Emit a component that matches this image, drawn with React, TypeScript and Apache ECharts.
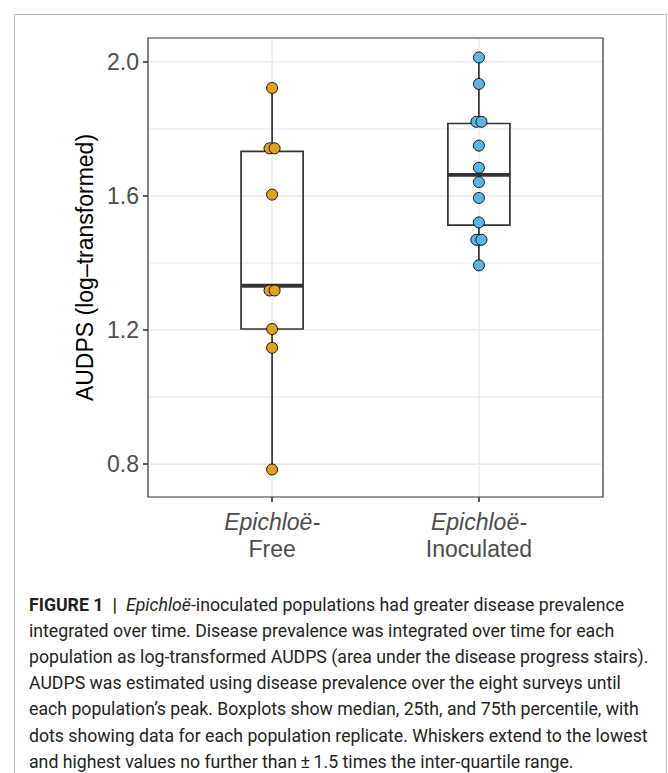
import React, { useEffect, useRef } from "react";
import * as echarts from "echarts";

// ---------------- data ----------------
const categories = ["Free", "Inoculated"];
const categoryPositions = [1, 2];
const freeValues = [1.922, 1.742, 1.742, 1.604, 1.318, 1.318, 1.203, 1.147, 0.784];
const inoculatedValues = [2.013, 1.934, 1.821, 1.821, 1.75, 1.684, 1.641, 1.594, 1.521, 1.469, 1.469, 1.393];
// [lower whisker, Q1, median, Q3, upper whisker]
const freeBox = [0.784, 1.203, 1.332, 1.733, 1.922];
const inoculatedBox = [1.393, 1.513, 1.663, 1.816, 2.013];
const yTicks = [0.8, 1.2, 1.6, 2.0];
const yMinorGrid = [1.0, 1.4, 1.8];
const yTitle = "AUDPS (log\u2013transformed)";
const xPrefix = "Epichlo\u00eb-";

const captionLines = [
  "{b|FIGURE 1\u2002|\u2002}{i|Epichlo\u00eb}-inoculated populations had greater disease prevalence",
  "integrated over time. Disease prevalence was integrated over time for each",
  "population as log-transformed AUDPS (area under the disease progress stairs).",
  "AUDPS was estimated using disease prevalence over the eight surveys until",
  "each population\u2019s peak. Boxplots show median, 25th, and 75th percentile, with",
  "dots showing data for each population replicate. Whiskers extend to the lowest",
  "and highest values no further than\u2009\u00b1\u20091.5 times the inter-quartile range.",
];

// ---------------- styles ----------------
const X_MIN = 0.4;
const X_MAX = 2.6;
const Y_MIN = 0.702;
const Y_MAX = 2.071;
const BOX_WIDTH = 0.3;
const DODGE = 0.0245;
const ORANGE = "#E3A01B";
const BLUE = "#5BB5E6";
const DARK = "#333333";
const GRID = "#EBEBEB";
const AXIS_FONT = "Liberation Sans, Arial, sans-serif";
const CAPTION_FONT = "Roboto, Liberation Sans, sans-serif";
const CAPTION_SIZE = 17.7;

function dodge(values: number[], x: number, step: number): number[][] {
  const counts = new Map<number, number>();
  values.forEach((v) => counts.set(v, (counts.get(v) || 0) + 1));
  const seen = new Map<number, number>();
  return values.map((v) => {
    const n = counts.get(v) || 1;
    const i = seen.get(v) || 0;
    seen.set(v, i + 1);
    return [x + (i - (n - 1) / 2) * step, v];
  });
}

export default function App() {
  const ref = useRef<HTMLDivElement>(null);

  useEffect(() => {
    if (!ref.current) return;
    const chart = echarts.init(ref.current, undefined, { renderer: "svg" });

    const gridData: number[][] = [
      ...yTicks.map((v) => [v, 0]),
      ...yMinorGrid.map((v) => [v, 1]),
      ...categoryPositions.map((v) => [v, 2]),
    ];

    const boxData = [
      [categoryPositions[0], ...freeBox],
      [categoryPositions[1], ...inoculatedBox],
    ];

    const captionGraphics = captionLines.map((line, i) => ({
      type: "text",
      left: 29,
      top: 596 + i * 26.1,
      z: 10,
      style: {
        text: line,
        font: `${CAPTION_SIZE}px ${CAPTION_FONT}`,
        fill: "#231F20",
        rich: {
          b: { fontWeight: "bold", fontSize: CAPTION_SIZE, fontFamily: CAPTION_FONT, fill: "#231F20" },
          i: { fontStyle: "italic", fontSize: CAPTION_SIZE, fontFamily: CAPTION_FONT, fill: "#231F20" },
        },
      },
    }));

    const option: any = {
      animation: false,
      backgroundColor: "#ffffff",
      grid: {
        left: 148,
        top: 38,
        right: 65,
        bottom: 276,
        show: true,
        borderColor: DARK,
        borderWidth: 1.2,
        backgroundColor: "transparent",
      },
      xAxis: {
        type: "value",
        min: X_MIN,
        max: X_MAX,
        axisLine: { show: false },
        splitLine: { show: false },
        axisTick: {
          show: true,
          customValues: categoryPositions,
          length: 5,
          lineStyle: { color: DARK, width: 1.6 },
        },
        axisLabel: {
          show: true,
          customValues: categoryPositions,
          margin: 11,
          formatter: (v: number) => {
            const idx = categoryPositions.indexOf(v);
            if (idx < 0) return "";
            return `{it|${xPrefix}}\n{rg|${categories[idx]}}`;
          },
          rich: {
            it: { fontStyle: "italic", fontSize: 23, fontFamily: AXIS_FONT, color: "#4D4D4D", lineHeight: 27 },
            rg: { fontSize: 23, fontFamily: AXIS_FONT, color: "#4D4D4D", lineHeight: 27 },
          },
        },
      },
      yAxis: {
        type: "value",
        min: Y_MIN,
        max: Y_MAX,
        name: yTitle,
        nameLocation: "middle",
        nameGap: 47,
        nameTextStyle: { fontSize: 23, fontFamily: AXIS_FONT, color: "#000000" },
        axisLine: { show: false },
        splitLine: { show: false },
        axisTick: {
          show: true,
          customValues: yTicks,
          length: 5,
          lineStyle: { color: DARK, width: 1.6 },
        },
        axisLabel: {
          show: true,
          customValues: yTicks,
          margin: 9,
          fontSize: 23,
          fontFamily: AXIS_FONT,
          color: "#4D4D4D",
          formatter: (v: number) => v.toFixed(1),
        },
      },
      graphic: [
        {
          type: "polyline",
          z: 10,
          silent: true,
          shape: { points: [[14.5, 773], [14.5, 14.5], [666.5, 14.5], [666.5, 773]] },
          style: { stroke: "#BDBDBD", lineWidth: 1, fill: "none" },
        },
        ...captionGraphics,
      ],
      series: [
        {
          type: "custom",
          name: "grid",
          silent: true,
          z: 1,
          data: gridData,
          encode: { x: 0, y: 1 },
          renderItem: (params: any, api: any) => {
            const cs = params.coordSys;
            const v = api.value(0);
            const kind = api.value(1);
            if (kind === 2) {
              const p = api.coord([v, Y_MIN]);
              return {
                type: "line",
                shape: { x1: p[0], y1: cs.y + 1, x2: p[0], y2: cs.y + cs.height - 1 },
                style: { stroke: GRID, lineWidth: 1.6 },
              };
            }
            const p = api.coord([X_MIN, v]);
            return {
              type: "line",
              shape: { x1: cs.x + 1, y1: p[1], x2: cs.x + cs.width - 1, y2: p[1] },
              style: { stroke: GRID, lineWidth: kind === 0 ? 1.6 : 1.1 },
            };
          },
        },
        {
          type: "custom",
          name: "box",
          silent: true,
          z: 2,
          data: boxData,
          encode: { x: 0, y: [1, 2, 3, 4, 5] },
          renderItem: (_params: any, api: any) => {
            const x = api.value(0);
            const lo = api.coord([x, api.value(1)]);
            const q1 = api.coord([x, api.value(2)]);
            const med = api.coord([x, api.value(3)]);
            const q3 = api.coord([x, api.value(4)]);
            const hi = api.coord([x, api.value(5)]);
            const half = api.size([BOX_WIDTH / 2, 0])[0];
            const cx = med[0];
            return {
              type: "group",
              children: [
                {
                  type: "line",
                  shape: { x1: cx, y1: hi[1], x2: cx, y2: q3[1] },
                  style: { stroke: DARK, lineWidth: 1.7 },
                },
                {
                  type: "line",
                  shape: { x1: cx, y1: q1[1], x2: cx, y2: lo[1] },
                  style: { stroke: DARK, lineWidth: 1.7 },
                },
                {
                  type: "rect",
                  shape: { x: cx - half, y: q3[1], width: 2 * half, height: q1[1] - q3[1] },
                  style: { fill: "none", stroke: DARK, lineWidth: 1.7 },
                },
                {
                  type: "line",
                  shape: { x1: cx - half, y1: med[1], x2: cx + half, y2: med[1] },
                  style: { stroke: DARK, lineWidth: 3.8 },
                },
              ],
            };
          },
        },
        {
          type: "scatter",
          name: categories[0],
          z: 3,
          symbolSize: 11,
          data: dodge(freeValues, categoryPositions[0], DODGE),
          itemStyle: { color: ORANGE, borderColor: "#111111", borderWidth: 1, opacity: 1 },
        },
        {
          type: "scatter",
          name: categories[1],
          z: 3,
          symbolSize: 11,
          data: dodge(inoculatedValues, categoryPositions[1], DODGE),
          itemStyle: { color: BLUE, borderColor: "#111111", borderWidth: 1, opacity: 1 },
        },
      ],
    };

    chart.setOption(option);
    return () => chart.dispose();
  }, []);

  return (
    <div
      ref={ref}
      style={{ position: "absolute", left: 0, top: 0, width: 668, height: 773, background: "#ffffff" }}
    />
  );
}
